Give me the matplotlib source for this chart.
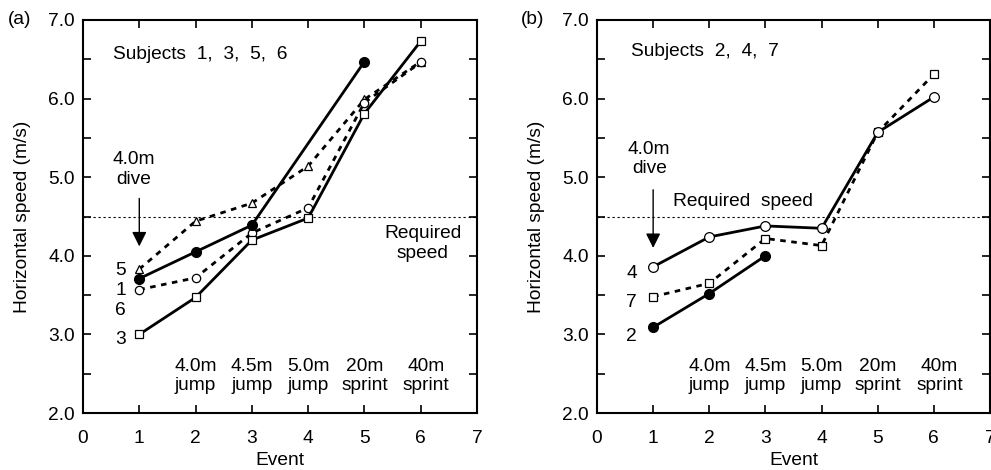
import matplotlib
matplotlib.use("Agg")
import matplotlib.pyplot as plt

plt.rcParams['font.family'] = ['Liberation Sans', 'DejaVu Sans']

events = [1, 2, 3, 4, 5, 6]
event_labels = ["4.0m\njump", "4.5m\njump", "5.0m\njump", "20m\nsprint", "40m\nsprint"]
event_label_x = [2, 3, 4, 5, 6.1]
required_speed = 4.5

# Panel (a): subjects 1, 3, 5, 6
a_s5 = [3.83, 4.44, 4.67, 5.14, 5.99, 6.47]
a_s1 = [3.57, 3.72, 4.29, 4.61, 5.95, 6.46]
a_s6_x = [1, 2, 3, 5]
a_s6 = [3.71, 4.05, 4.39, 6.47]
a_s3 = [3.00, 3.47, 4.20, 4.48, 5.81, 6.73]

# Panel (b): subjects 2, 4, 7
b_s4 = [3.86, 4.24, 4.38, 4.35, 5.57, 6.02]
b_s7 = [3.48, 3.65, 4.22, 4.13, 5.57, 6.31]
b_s2_x = [1, 2, 3]
b_s2 = [3.09, 3.52, 4.00]

a_labels = ["5", "1", "6", "3"]
a_label_y = [3.81, 3.56, 3.30, 2.93]
b_labels = ["4", "7", "2"]
b_label_y = [3.77, 3.40, 2.97]

FS = 13.8
fig = plt.figure(figsize=(9.91, 4.70), dpi=100)
axA = fig.add_axes([83/991, 1-413/470, (477-83)/991, (413-20)/470])
axB = fig.add_axes([597/991, 1-413/470, (990-597)/991, (413-20)/470])

dash = (0, (2.0, 2.0))

def style(ax):
    ax.set_xlim(0, 7)
    ax.set_ylim(2.0, 7.0)
    ax.set_xticks(range(0, 8))
    ax.set_yticks([2.0, 2.5, 3.0, 3.5, 4.0, 4.5, 5.0, 5.5, 6.0, 6.5, 7.0])
    ax.set_yticklabels(["2.0", "", "3.0", "", "4.0", "", "5.0", "", "6.0", "", "7.0"])
    ax.tick_params(axis='both', direction='in', length=6, width=1.2, top=True, right=True,
                   labelsize=FS)
    ax.tick_params(axis='x', pad=12)
    ax.tick_params(axis='y', pad=6)
    for s in ax.spines.values():
        s.set_linewidth(1.5)
    ax.set_xlabel("Event", fontsize=FS, labelpad=4)
    ax.set_ylabel("Horizontal speed (m/s)", fontsize=FS, labelpad=12)
    ax.axhline(required_speed, color='black', lw=0.8, linestyle=(0, (2, 2.5)))
    for x, t in zip(event_label_x, event_labels):
        ax.text(x, 2.47, t, ha='center', va='center', fontsize=FS, linespacing=1.2)

style(axA)
style(axB)

lw = 2.0
# Panel a
axA.plot(events, a_s5, color='black', lw=lw, linestyle=dash, marker='^',
         mfc='white', mec='black', ms=6, mew=0.9, zorder=3)
axA.plot(events, a_s1, color='black', lw=lw, linestyle=dash, marker='o',
         mfc='white', mec='black', ms=6, mew=0.9, zorder=3)
axA.plot(a_s6_x, a_s6, color='black', lw=lw, marker='o', mfc='black',
         mec='black', ms=7, zorder=4)
axA.plot(events, a_s3, color='black', lw=lw, marker='s', mfc='white',
         mec='black', ms=6, mew=0.9, zorder=4)
for t, y in zip(a_labels, a_label_y):
    axA.text(0.67, y, t, ha='center', va='center', fontsize=FS)
axA.text(0.54, 6.56, "Subjects  1,  3,  5,  6", ha='left', va='center', fontsize=FS)
axA.text(0.9, 5.1, "4.0m\ndive", ha='center', va='center', fontsize=FS, linespacing=1.2)
axA.annotate("", xy=(1, 4.12), xytext=(1, 4.73),
             arrowprops=dict(arrowstyle='-|>', color='black', lw=1.0,
                             mutation_scale=22, shrinkA=0, shrinkB=0))
axA.text(6.04, 4.16, "Required\nspeed", ha='center', va='center', fontsize=FS,
         linespacing=1.2)
fig.text(20/991, 1-20/470, "(a)", ha='center', va='center', fontsize=FS)

# Panel b
axB.plot(events, b_s7, color='black', lw=lw, linestyle=dash, marker='s',
         mfc='white', mec='black', ms=6, mew=0.9, zorder=3)
axB.plot(events, b_s4, color='black', lw=lw, marker='o', mfc='white',
         mec='black', ms=7, mew=0.9, zorder=4)
axB.plot(b_s2_x, b_s2, color='black', lw=lw, marker='o', mfc='black',
         mec='black', ms=7, zorder=4)
for t, y in zip(b_labels, b_label_y):
    axB.text(0.62, y, t, ha='center', va='center', fontsize=FS)
axB.text(0.6, 6.6, "Subjects  2,  4,  7", ha='left', va='center', fontsize=FS)
axB.text(0.93, 5.23, "4.0m\ndive", ha='center', va='center', fontsize=FS, linespacing=1.2)
axB.annotate("", xy=(1, 4.1), xytext=(1, 4.84),
             arrowprops=dict(arrowstyle='-|>', color='black', lw=1.0,
                             mutation_scale=22, shrinkA=0, shrinkB=0))
axB.text(2.6, 4.69, "Required  speed", ha='center', va='center', fontsize=FS)
fig.text(533/991, 1-20/470, "(b)", ha='center', va='center', fontsize=FS)

fig.savefig("out.png", dpi=100)
